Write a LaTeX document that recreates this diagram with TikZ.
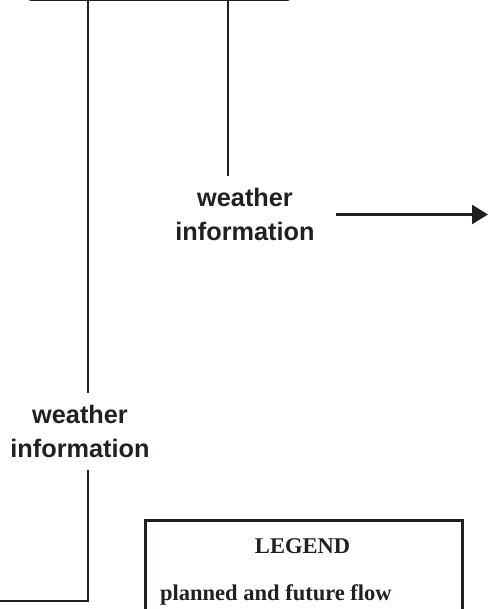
\documentclass[tikz,border=0pt]{standalone}
\usepackage{fontspec}
\setmainfont{Liberation Serif}
\newfontfamily\labelsans{Liberation Sans}
\usetikzlibrary{arrows.meta,positioning}
\definecolor{ink}{HTML}{231F20}

\begin{document}
\begin{tikzpicture}[
	x=1pt, y=-1pt,
	>={Triangle[length=16pt,width=19pt]},
	sysbox/.style={
		rectangle, rounded corners=3pt,
		draw=ink, line width=2.6pt,
		minimum width=262pt, minimum height=80pt, inner sep=0pt
	},
	wxlabel/.style={
		font=\labelsans\bfseries\fontsize{25.3}{34}\selectfont,
		text=ink, align=center,
		inner xsep=4pt, inner ysep=12pt
	},
	legendbox/.style={
		rectangle, draw=ink, line width=2.6pt,
		minimum width=317pt, minimum height=140pt, inner sep=0pt
	},
	legendtxt/.style={font=\bfseries\fontsize{22.5}{26}\selectfont, text=ink, inner sep=0pt},
	flow/.style={draw=ink, line width=2.4pt}
]
\clip (0,0) rectangle (489,609);

% Top box (cut off by the frame)
\node[sysbox, anchor=south west] (sys) at (27,1) {};

% Labels on the flows
\node[wxlabel, anchor=north] (rwx) at (245,176) {weather\\information};
\node[wxlabel] (lwx) at (80,431.5) {weather\\information};

% Free ends
\coordinate (wxout)  at (488,216);
\coordinate (wxleft) at (0,601);

% Right flow
\draw[flow] ([xshift=-17pt]rwx.north) -- ([xshift=-17pt]rwx.north |- sys.south);
\draw[flow, ->] ([xshift=17.5pt]rwx.east) -- (wxout |- rwx.east);

% Left flow
\draw[flow] ([xshift=8pt]lwx.north) -- ([xshift=8pt]lwx.north |- sys.south);
\draw[flow] ([xshift=8pt]lwx.south) |- (wxleft);

% Legend
\node[legendbox, anchor=north west] (legend) at (144,519) {};
\node[legendtxt, anchor=base] (legtitle) at (302.5,553) {LEGEND};
\node[legendtxt, anchor=base west] (legplan) at (160,600) {planned and future flow};

\end{tikzpicture}
\end{document}
